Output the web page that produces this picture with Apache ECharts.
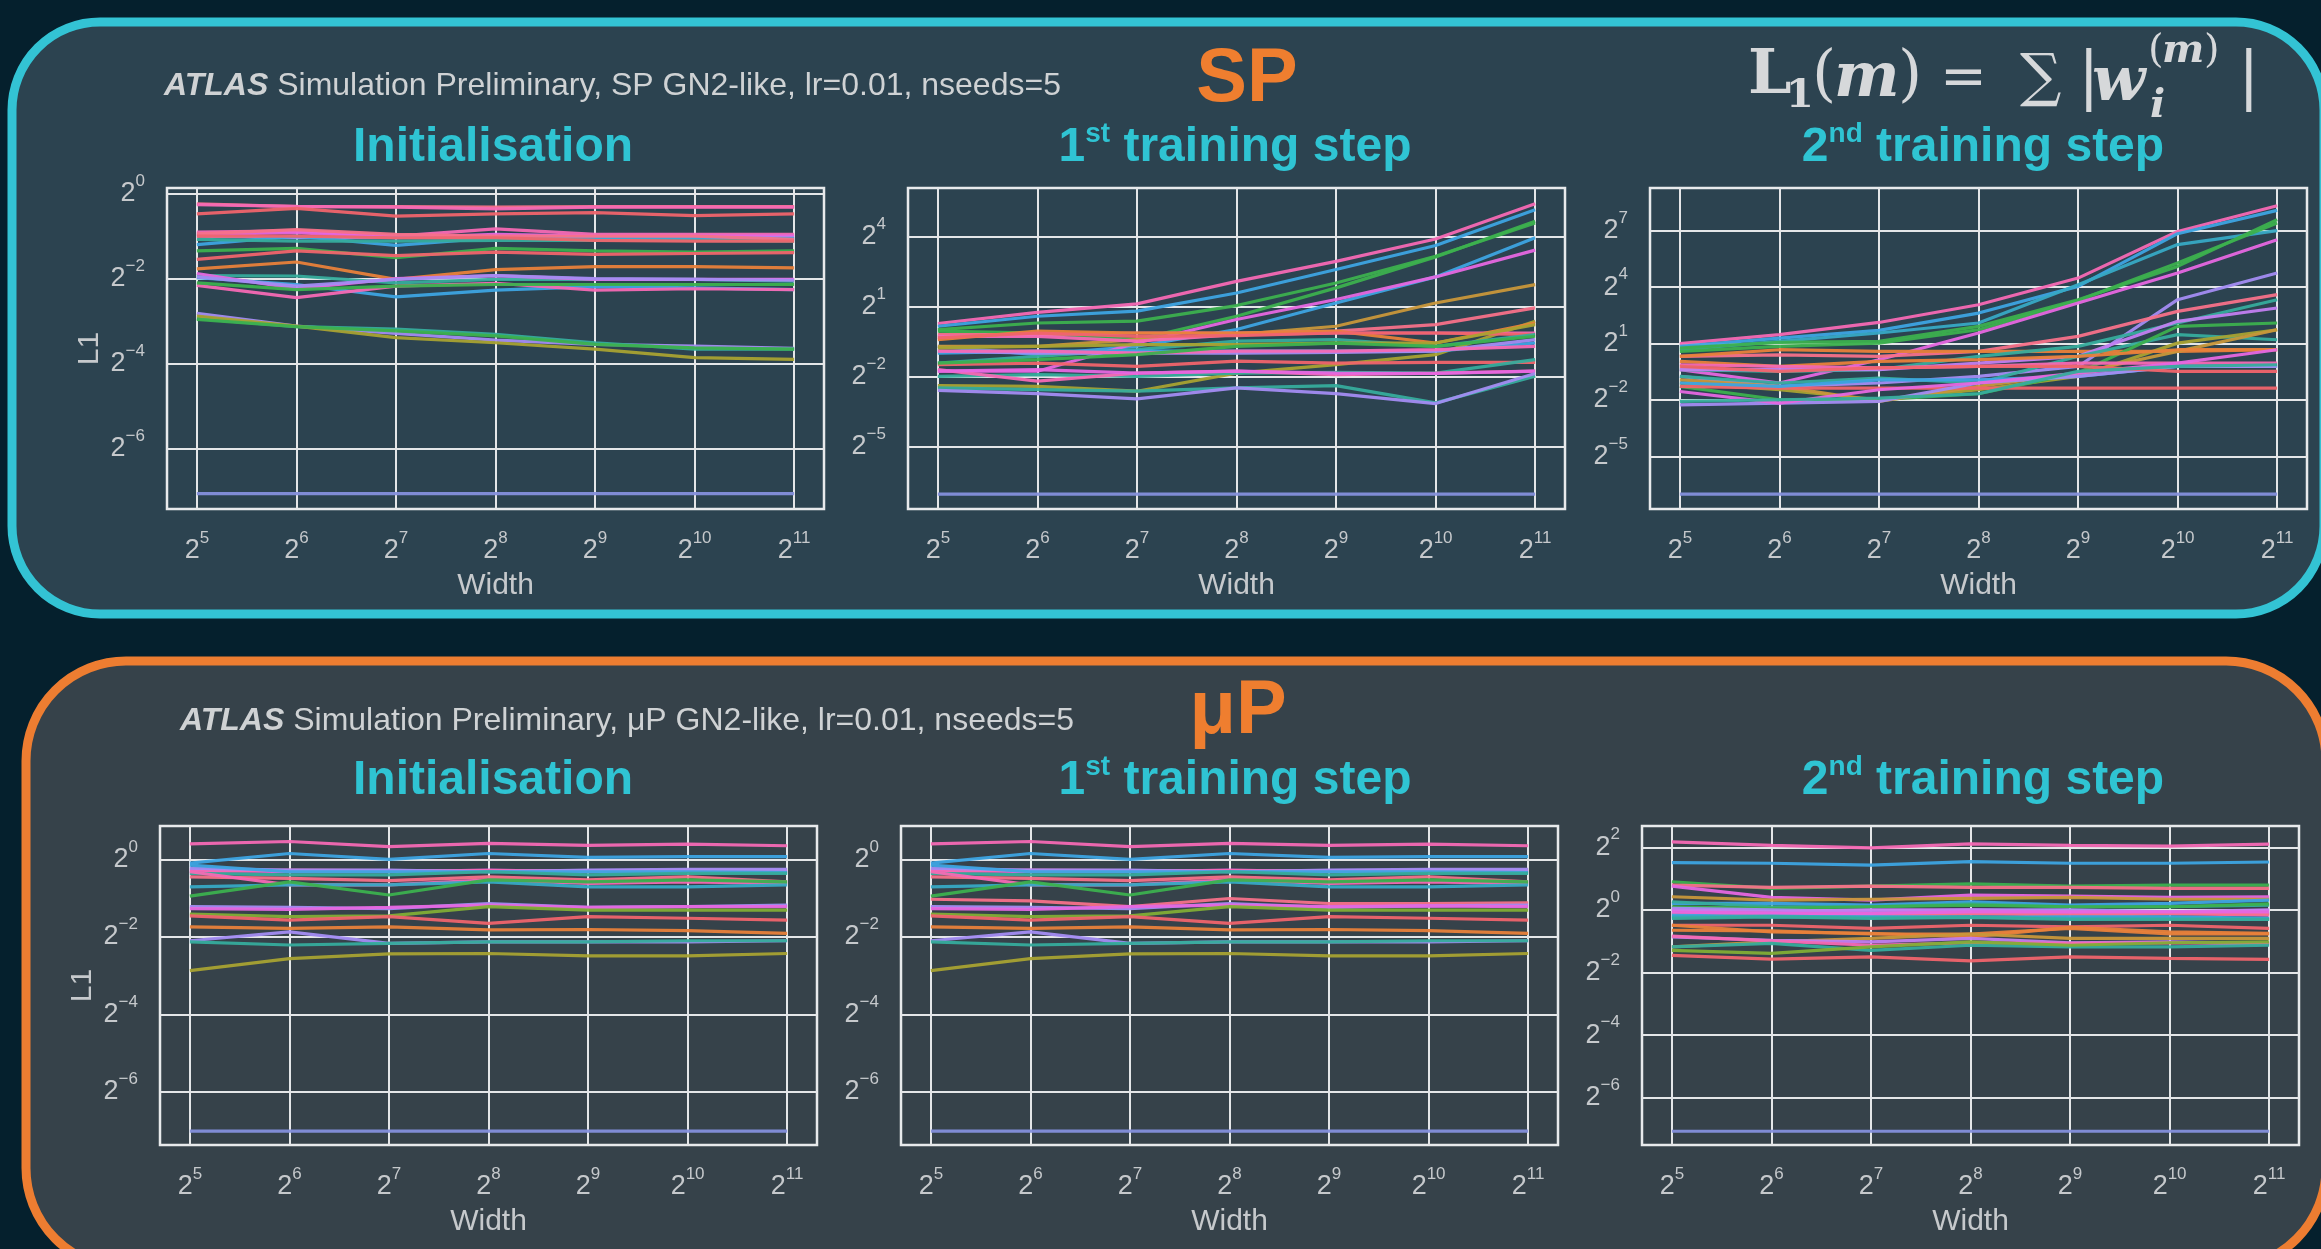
<!DOCTYPE html>
<html>
<head>
<meta charset="utf-8">
<script src="https://cdn.jsdelivr.net/npm/echarts@6/dist/echarts.min.js"></script>
<style>
  html, body { margin: 0; padding: 0; background: #05202d; }
  #chart { width: 2321px; height: 1249px; }
</style>
</head>
<body>
<div id="chart"></div>
<script>
// Layer widths (log2 of hidden width) shared by every panel
const widthExp = [5, 6, 7, 8, 9, 10, 11];

// y tick positions (log2 L1)
const ticksInit = [-6, -4, -2, 0];
const ticksSpStep1 = [-5, -2, 1, 4];
const ticksSpStep2 = [-5, -2, 1, 4, 7];
const ticksUpStep2 = [-6, -4, -2, 0, 2];

// log2 of the L1 norm per layer, one row per layer, one value per width
const spInitL1 = [
  [-0.24, -0.31, -0.31, -0.32, -0.31, -0.31, -0.31],
  [-0.26, -0.30, -0.32, -0.36, -0.32, -0.32, -0.32],
  [-0.48, -0.35, -0.53, -0.48, -0.45, -0.52, -0.48],
  [-0.91, -0.88, -1.00, -0.83, -0.96, -0.96, -0.96],
  [-0.96, -0.92, -1.04, -0.96, -1.00, -1.00, -1.00],
  [-1.00, -1.04, -1.04, -1.04, -1.04, -1.04, -1.04],
  [-1.20, -1.00, -1.22, -1.04, -1.06, -1.06, -1.06],
  [-1.08, -1.12, -1.12, -1.10, -1.10, -1.10, -1.12],
  [-0.95, -0.85, -0.96, -1.00, -1.00, -1.00, -1.08],
  [-1.00, -1.00, -1.04, -1.04, -1.10, -1.12, -1.12],
  [-1.35, -1.29, -1.51, -1.29, -1.35, -1.38, -1.35],
  [-1.55, -1.35, -1.46, -1.38, -1.43, -1.41, -1.39],
  [-1.77, -1.61, -2.02, -1.79, -1.72, -1.72, -1.75],
  [-1.93, -1.94, -2.10, -2.02, -2.02, -2.02, -2.06],
  [-1.98, -2.14, -2.43, -2.27, -2.19, -2.22, -2.26],
  [-1.88, -2.24, -2.00, -1.93, -2.02, -2.02, -2.02],
  [-2.16, -2.45, -2.18, -2.11, -2.27, -2.24, -2.26],
  [-2.10, -2.26, -2.18, -2.14, -2.14, -2.14, -2.14],
  [-1.96, -2.18, -2.02, -1.93, -2.00, -2.02, -2.04],
  [-2.82, -3.12, -3.29, -3.45, -3.55, -3.59, -3.64],
  [-2.94, -3.13, -3.19, -3.31, -3.51, -3.66, -3.66],
  [-2.88, -3.12, -3.39, -3.51, -3.66, -3.86, -3.90],
  [-2.96, -3.13, -3.23, -3.35, -3.55, -3.63, -3.66],
  [-7.06, -7.06, -7.06, -7.06, -7.06, -7.06, -7.06]
];
const spInitHue = ['rose', 'hotpink', 'red', 'hotpink', 'magenta', 'purple', 'blue', 'teal',
  'rose', 'red', 'green', 'red', 'orange', 'teal', 'blue', 'magenta', 'hotpink', 'green',
  'purple', 'purple', 'teal', 'olive', 'green', 'flat'];

const spStep1L1 = [
  [0.28, 0.76, 1.12, 2.09, 2.95, 3.91, 5.42],
  [0.16, 0.59, 0.81, 1.59, 2.60, 3.63, 5.17],
  [0.02, 0.30, 0.38, 1.05, 2.02, 3.17, 4.60],
  [-0.05, -0.13, -0.41, 0.59, 1.81, 3.14, 4.67],
  [-0.70, -1.06, -0.70, 0.02, 1.16, 2.28, 3.96],
  [-1.77, -1.77, -0.56, 0.45, 1.31, 2.28, 3.43],
  [-0.70, -0.70, -0.41, -0.20, 0.16, 1.16, 1.95],
  [-0.20, -0.20, -0.13, -0.13, -0.05, 0.23, 0.95],
  [-2.39, -2.42, -2.63, -1.85, -1.49, -1.06, 0.38],
  [-0.27, -0.27, -0.48, -0.20, -0.13, -0.13, -0.13],
  [-0.41, -0.05, -0.13, -0.13, -0.05, -0.56, 0.30],
  [-0.34, -0.13, -0.27, -0.24, -0.13, -0.13, -0.20],
  [-1.42, -1.13, -0.84, -0.48, -0.41, -0.70, -0.20],
  [-0.99, -0.91, -0.91, -0.91, -0.91, -0.91, -0.56],
  [-0.91, -0.99, -0.99, -0.99, -0.96, -0.91, -0.41],
  [-0.91, -0.91, -0.99, -0.91, -0.91, -0.84, -0.70],
  [-1.49, -1.42, -1.56, -1.34, -1.42, -1.39, -1.39],
  [-0.77, -0.70, -0.63, -0.63, -0.56, -0.56, 0.23],
  [-1.42, -1.27, -1.06, -0.70, -0.56, -0.70, -0.27],
  [-1.99, -1.92, -1.99, -1.85, -1.82, -1.85, -1.27],
  [-1.70, -2.20, -1.85, -1.77, -1.92, -1.85, -1.77],
  [-1.77, -1.70, -1.85, -1.77, -1.85, -1.87, -1.77],
  [-2.49, -2.56, -2.63, -2.49, -2.39, -3.13, -1.99],
  [-2.59, -2.73, -2.96, -2.49, -2.73, -3.16, -1.87],
  [-7.05, -7.05, -7.05, -7.05, -7.05, -7.05, -7.05]
];
const spStep1Hue = ['hotpink', 'blue', 'green', 'green', 'blue', 'magenta', 'gold', 'rose',
  'olive', 'hotpink', 'orange', 'red', 'teal', 'blue', 'purple', 'hotpink', 'red', 'olive',
  'green', 'teal', 'hotpink', 'magenta', 'teal', 'purple', 'flat'];

const spStep2L1 = [
  [0.99, 1.47, 2.12, 3.06, 4.48, 6.96, 8.33],
  [0.85, 1.29, 1.70, 2.62, 4.04, 6.84, 8.08],
  [0.67, 1.11, 1.56, 2.09, 4.13, 6.26, 7.00],
  [0.76, 1.06, 1.11, 1.91, 3.33, 5.10, 7.59],
  [0.58, 0.85, 1.02, 1.73, 3.29, 5.28, 7.41],
  [-0.39, -1.10, 0.14, 1.56, 3.15, 4.75, 6.52],
  [-0.75, -1.28, -1.10, -0.75, -0.22, 3.33, 4.75],
  [0.32, 0.40, 0.32, 0.58, 1.38, 2.71, 3.60],
  [0.32, 0.67, 0.58, 0.58, 0.58, 0.58, 0.67],
  [-0.39, -0.48, -0.39, 0.32, 0.85, 2.09, 3.33],
  [-0.39, -0.39, -0.39, -0.04, 0.32, 2.18, 2.89],
  [-0.75, -1.10, -0.84, -1.10, 0.32, 1.47, 1.20],
  [-1.10, -1.46, -1.99, -1.46, -0.75, 1.02, 1.73],
  [-1.28, -1.99, -1.99, -1.67, -0.57, 1.91, 2.09],
  [-0.93, -1.28, -2.08, -1.28, -0.57, 0.58, 1.73],
  [0.05, -0.22, 0.05, 0.14, 0.32, 0.67, 0.67],
  [-0.13, -0.22, -0.30, -0.22, -0.04, -0.04, -0.04],
  [-1.28, -1.37, -1.37, -1.37, -1.37, -1.37, -1.37],
  [-1.10, -1.28, -0.93, -0.93, -0.75, -0.22, -0.22],
  [-2.26, -2.17, -2.08, -1.10, -0.75, -0.22, -0.22],
  [-1.55, -2.17, -1.46, -1.10, -0.57, -0.04, 0.67],
  [-0.22, -0.48, -0.30, -0.22, -0.22, -0.48, -0.48],
  [-2.08, -1.99, -1.90, -1.67, -0.48, -0.22, -0.13],
  [-7.01, -7.01, -7.01, -7.01, -7.01, -7.01, -7.01]
];
const spStep2Hue = ['hotpink', 'blue', 'cyan', 'green', 'green', 'magenta', 'purple', 'rose',
  'orange', 'teal', 'violet', 'teal', 'olive', 'green', 'gold', 'orange', 'hotpink', 'red',
  'blue', 'purple', 'magenta', 'red', 'teal', 'flat'];

const upInitL1 = [
  [0.40, 0.46, 0.33, 0.41, 0.36, 0.39, 0.35],
  [-0.10, 0.15, 0.00, 0.15, 0.05, 0.07, 0.07],
  [-0.28, -0.32, -0.32, -0.28, -0.32, -0.28, -0.28],
  [-0.32, -0.28, -0.29, -0.29, -0.29, -0.29, -0.32],
  [-0.23, -0.28, -0.28, -0.32, -0.28, -0.26, -0.26],
  [-0.15, -0.32, -0.32, -0.32, -0.32, -0.32, -0.34],
  [-0.36, -0.40, -0.40, -0.32, -0.40, -0.36, -0.36],
  [-0.45, -0.49, -0.55, -0.45, -0.53, -0.45, -0.58],
  [-0.32, -0.66, -0.66, -0.53, -0.62, -0.58, -0.62],
  [-0.71, -0.66, -0.66, -0.58, -0.71, -0.71, -0.66],
  [-0.95, -0.58, -0.92, -0.53, -0.58, -0.53, -0.58],
  [-1.22, -1.24, -1.27, -1.14, -1.24, -1.22, -1.18],
  [-1.27, -1.29, -1.24, -1.18, -1.24, -1.22, -1.22],
  [-1.41, -1.48, -1.46, -1.22, -1.31, -1.31, -1.31],
  [-1.46, -1.57, -1.48, -1.65, -1.48, -1.52, -1.57],
  [-1.74, -1.78, -1.74, -1.82, -1.81, -1.84, -1.91],
  [-2.10, -1.87, -2.17, -2.13, -2.13, -2.13, -2.10],
  [-2.13, -2.21, -2.17, -2.13, -2.13, -2.10, -2.10],
  [-2.87, -2.56, -2.44, -2.43, -2.49, -2.49, -2.43],
  [-7.01, -7.01, -7.01, -7.01, -7.01, -7.01, -7.01]
];
const upInitHue = ['hotpink', 'blue', 'magenta', 'hotpink', 'purple', 'blue', 'teal', 'rose',
  'hotpink', 'cyan', 'green', 'purple', 'magenta', 'lime', 'red', 'orange', 'purple', 'teal',
  'olive', 'flat'];

const upStep1L1 = [
  [0.40, 0.46, 0.33, 0.41, 0.36, 0.39, 0.35],
  [-0.10, 0.15, 0.00, 0.15, 0.05, 0.07, 0.07],
  [-0.28, -0.32, -0.32, -0.28, -0.32, -0.28, -0.28],
  [-0.32, -0.28, -0.29, -0.29, -0.29, -0.29, -0.32],
  [-0.23, -0.28, -0.28, -0.32, -0.28, -0.26, -0.26],
  [-0.15, -0.32, -0.32, -0.32, -0.32, -0.32, -0.34],
  [-0.36, -0.40, -0.40, -0.32, -0.40, -0.36, -0.36],
  [-0.45, -0.49, -0.55, -0.45, -0.53, -0.45, -0.58],
  [-0.32, -0.66, -0.66, -0.53, -0.62, -0.58, -0.62],
  [-0.71, -0.66, -0.66, -0.58, -0.71, -0.71, -0.66],
  [-0.95, -0.58, -0.92, -0.53, -0.58, -0.53, -0.58],
  [-1.03, -1.07, -1.22, -1.01, -1.14, -1.14, -1.12],
  [-1.22, -1.24, -1.27, -1.14, -1.24, -1.20, -1.18],
  [-1.27, -1.29, -1.22, -1.18, -1.22, -1.20, -1.22],
  [-1.41, -1.48, -1.46, -1.22, -1.31, -1.31, -1.31],
  [-1.46, -1.57, -1.48, -1.65, -1.48, -1.52, -1.57],
  [-1.74, -1.78, -1.74, -1.82, -1.81, -1.84, -1.91],
  [-2.10, -1.87, -2.17, -2.13, -2.13, -2.13, -2.10],
  [-2.13, -2.21, -2.17, -2.13, -2.13, -2.10, -2.10],
  [-2.87, -2.56, -2.44, -2.43, -2.49, -2.49, -2.43],
  [-7.01, -7.01, -7.01, -7.01, -7.01, -7.01, -7.01]
];
const upStep1Hue = ['hotpink', 'blue', 'magenta', 'hotpink', 'purple', 'blue', 'teal', 'rose',
  'hotpink', 'cyan', 'green', 'rose', 'purple', 'magenta', 'lime', 'red', 'orange', 'purple',
  'teal', 'olive', 'flat'];

const upStep2L1 = [
  [2.17, 2.06, 1.98, 2.11, 2.06, 2.04, 2.10],
  [1.51, 1.49, 1.43, 1.54, 1.49, 1.49, 1.53],
  [0.90, 0.69, 0.76, 0.83, 0.76, 0.79, 0.79],
  [0.79, 0.72, 0.76, 0.72, 0.72, 0.69, 0.69],
  [0.76, 0.40, 0.31, 0.47, 0.44, 0.40, 0.42],
  [0.42, 0.31, 0.34, 0.37, 0.40, 0.34, 0.34],
  [0.21, 0.21, 0.15, 0.26, 0.15, 0.21, 0.31],
  [0.26, 0.10, 0.10, 0.19, 0.10, 0.10, 0.15],
  [0.10, 0.05, 0.10, 0.15, 0.10, 0.10, 0.19],
  [0.05, 0.00, -0.06, 0.00, 0.00, -0.06, -0.11],
  [0.00, -0.06, 0.00, 0.00, -0.06, -0.06, 0.00],
  [-0.11, -0.11, -0.17, -0.13, -0.11, -0.11, -0.17],
  [-0.13, -0.17, -0.13, -0.11, -0.17, -0.13, -0.13],
  [-0.17, -0.22, -0.22, -0.24, -0.22, -0.22, -0.27],
  [-0.06, -0.11, -0.11, -0.06, -0.06, -0.06, -0.06],
  [-0.22, -0.20, -0.24, -0.22, -0.27, -0.27, -0.30],
  [-0.27, -0.22, -0.27, -0.24, -0.30, -0.30, -0.30],
  [-0.49, -0.49, -0.59, -0.49, -0.54, -0.49, -0.59],
  [-0.49, -0.70, -0.75, -0.86, -0.56, -0.70, -0.75],
  [-0.65, -0.67, -0.77, -0.77, -0.59, -0.77, -0.77],
  [-1.18, -1.02, -0.91, -0.77, -0.91, -0.91, -0.91],
  [-0.86, -0.97, -1.02, -0.91, -1.05, -1.02, -1.07],
  [-0.84, -0.99, -1.13, -1.05, -1.07, -1.05, -1.09],
  [-1.18, -1.07, -1.29, -1.13, -1.18, -1.18, -1.13],
  [-1.29, -1.39, -1.18, -1.02, -1.13, -1.05, -1.02],
  [-1.45, -1.57, -1.50, -1.63, -1.50, -1.55, -1.58],
  [-7.07, -7.07, -7.07, -7.07, -7.07, -7.07, -7.07]
];
const upStep2Hue = ['hotpink', 'blue', 'green', 'rose', 'magenta', 'gold', 'blue', 'teal',
  'green', 'purple', 'violet', 'hotpink', 'rose', 'blue', 'magenta', 'cyan', 'teal', 'red',
  'orange', 'orange', 'gold', 'violet', 'hotpink', 'teal', 'lime', 'red', 'flat'];

// Line colours (husl-like wheel)
const palette = {
  red: '#f0646c', rose: '#f77189', hotpink: '#f569b4', magenta: '#e667e0',
  orange: '#e8813a', gold: '#c8973a', olive: '#a8a232', lime: '#82ad35',
  green: '#3cb04e', teal: '#36ac9c', cyan: '#37a9c4', blue: '#3da4e2',
  purple: '#a38cf2', violet: '#c27ef0', flat: '#8590dc'
};

const FONT = "'Liberation Sans', Arial, Helvetica, sans-serif";
const LABEL = '#c6c9cc';
const GRIDLINE = '#e4e6e8';

// Panel layout: plot rectangle in px and axis range in log2 units
const panels = [
  { rows: spInitL1, hues: spInitHue, ticks: ticksInit, yRange: [-7.42, 0.13], rect: [167, 188, 657, 321], yName: 'L1' },
  { rows: spStep1L1, hues: spStep1Hue, ticks: ticksSpStep1, yRange: [-7.69, 6.10], rect: [908, 188, 657, 321] },
  { rows: spStep2L1, hues: spStep2Hue, ticks: ticksSpStep2, yRange: [-7.80, 9.27], rect: [1650, 188, 657, 321] },
  { rows: upInitL1, hues: upInitHue, ticks: ticksInit, yRange: [-7.37, 0.86], rect: [160, 826, 657, 319], yName: 'L1' },
  { rows: upStep1L1, hues: upStep1Hue, ticks: ticksInit, yRange: [-7.37, 0.86], rect: [901, 826, 657, 319] },
  { rows: upStep2L1, hues: upStep2Hue, ticks: ticksUpStep2, yRange: [-7.51, 2.68], rect: [1642, 826, 657, 319] }
];

function powLabel(v) {
  const e = String(Math.round(v)).replace('-', '\u2212');
  return '{b|2}{s|' + e + '}';
}
const powRich = {
  b: { fontFamily: FONT, fontSize: 27, color: LABEL, lineHeight: 42 },
  s: { fontFamily: FONT, fontSize: 17, color: LABEL, lineHeight: 19, verticalAlign: 'top' }
};

const grids = [], xAxes = [], yAxes = [], series = [];
panels.forEach((p, i) => {
  grids.push({
    left: p.rect[0], top: p.rect[1], width: p.rect[2], height: p.rect[3],
    show: true, backgroundColor: 'transparent', borderColor: '#e8eaec', borderWidth: 2.5
  });
  xAxes.push({
    type: 'value', gridIndex: i, min: 4.7, max: 11.3,
    axisLine: { show: false },
    axisTick: { show: false, customValues: widthExp },
    axisLabel: { customValues: widthExp, formatter: powLabel, rich: powRich, margin: 21 },
    splitLine: { show: true, lineStyle: { color: GRIDLINE, width: 2 } },
    name: 'Width', nameLocation: 'middle', nameGap: 62,
    nameTextStyle: { fontFamily: FONT, fontSize: 30, color: LABEL }
  });
  yAxes.push({
    type: 'value', gridIndex: i, min: p.yRange[0], max: p.yRange[1],
    axisLine: { show: false },
    axisTick: { show: false, customValues: p.ticks },
    axisLabel: { customValues: p.ticks, formatter: powLabel, rich: powRich, margin: 22 },
    splitLine: { show: true, lineStyle: { color: GRIDLINE, width: 2 } },
    name: p.yName || '', nameLocation: 'middle', nameGap: 62,
    nameTextStyle: { fontFamily: FONT, fontSize: 30, color: LABEL }
  });
  p.rows.forEach((row, k) => {
    series.push({
      type: 'line', xAxisIndex: i, yAxisIndex: i,
      data: row.map((v, j) => [widthExp[j], v]),
      symbol: 'none', silent: true,
      lineStyle: { color: palette[p.hues[k]], width: 3.2, opacity: 0.95 }
    });
  });
});

// Titles and header text
const CYAN = '#2fc4d3';
const ORANGE = '#ef7e2f';
const titleRich = {
  m: { fontFamily: FONT, fontSize: 48, fontWeight: 'bold', fill: CYAN, lineHeight: 56 },
  s: { fontFamily: FONT, fontSize: 28, fontWeight: 'bold', fill: CYAN, lineHeight: 28, verticalAlign: 'top' }
};
function title(x, y, text) {
  return { type: 'text', x: x, y: y, style: { text: text, rich: titleRich, fill: CYAN, align: 'center', verticalAlign: 'middle' } };
}
const atlasRich = {
  a: { fontFamily: FONT, fontSize: 32, fontWeight: 'bold', fontStyle: 'italic', fill: '#cfd2d4' },
  n: { fontFamily: FONT, fontSize: 32, fill: '#cfd2d4' }
};
const SERIF = "'DejaVu Serif', 'Liberation Serif', serif";
function mathText(x, y, text, size, style, weight) {
  return { type: 'text', x: x, y: y, style: {
    text: text, fill: '#d6d8da', align: 'left', verticalAlign: 'middle',
    font: (style || 'normal') + ' ' + (weight || 'bold') + ' ' + size + 'px ' + SERIF } };
}

const graphic = [
  { type: 'rect', z: -10, shape: { x: 12, y: 22, width: 2312, height: 592, r: 88 },
    style: { fill: '#2c4350', stroke: '#33c3d4', lineWidth: 9 } },
  { type: 'rect', z: -10, shape: { x: 26, y: 661, width: 2300, height: 607, r: 100 },
    style: { fill: '#36424a', stroke: '#ed7d31', lineWidth: 9 } },
  { type: 'text', x: 164, y: 86, style: { text: '{a|ATLAS}{n| Simulation Preliminary, SP GN2-like, lr=0.01, nseeds=5}', rich: atlasRich, fill: '#cfd2d4', verticalAlign: 'middle' } },
  { type: 'text', x: 180, y: 721, style: { text: '{a|ATLAS}{n| Simulation Preliminary, \u03bcP GN2-like, lr=0.01, nseeds=5}', rich: atlasRich, fill: '#cfd2d4', verticalAlign: 'middle' } },
  { type: 'text', x: 1247, y: 80, style: { text: 'SP', fill: ORANGE, font: 'bold 76px ' + FONT, align: 'center', verticalAlign: 'middle' } },
  { type: 'text', x: 1238, y: 712, style: { text: '\u03bcP', fill: ORANGE, font: 'bold 76px ' + FONT, align: 'center', verticalAlign: 'middle' } },
  title(493, 148, '{m|Initialisation}'),
  title(1235, 148, '{m|1}{s|st}{m| training step}'),
  title(1983, 148, '{m|2}{s|nd}{m| training step}'),
  title(493, 781, '{m|Initialisation}'),
  title(1235, 781, '{m|1}{s|st}{m| training step}'),
  title(1983, 781, '{m|2}{s|nd}{m| training step}'),
  // L1(m) = sum |w_i^(m)|
  mathText(1748, 77, 'L', 62),
  mathText(1786, 97, '1', 40),
  mathText(1812, 78, '(', 62, 'normal', 'normal'),
  mathText(1834, 80, 'm', 62, 'italic'),
  mathText(1898, 78, ')', 62, 'normal', 'normal'),
  mathText(1940, 80, '=', 56, 'normal', 'normal'),
  mathText(2020, 80, '\u2211', 58, 'normal', 'normal'),
  mathText(2078, 80, '|', 64, 'normal', 'normal'),
  mathText(2092, 84, 'w', 62, 'italic'),
  mathText(2148, 52, '(', 40, 'normal', 'normal'),
  mathText(2162, 52, 'm', 40, 'italic'),
  mathText(2204, 52, ')', 40, 'normal', 'normal'),
  mathText(2150, 107, 'i', 40, 'italic'),
  mathText(2238, 80, '|', 64, 'normal', 'normal')
];

const chart = echarts.init(document.getElementById('chart'), null, { renderer: 'canvas' });
chart.setOption({
  backgroundColor: '#05202d',
  animation: false,
  grid: grids,
  xAxis: xAxes,
  yAxis: yAxes,
  series: series,
  graphic: graphic
});
</script>
</body>
</html>
